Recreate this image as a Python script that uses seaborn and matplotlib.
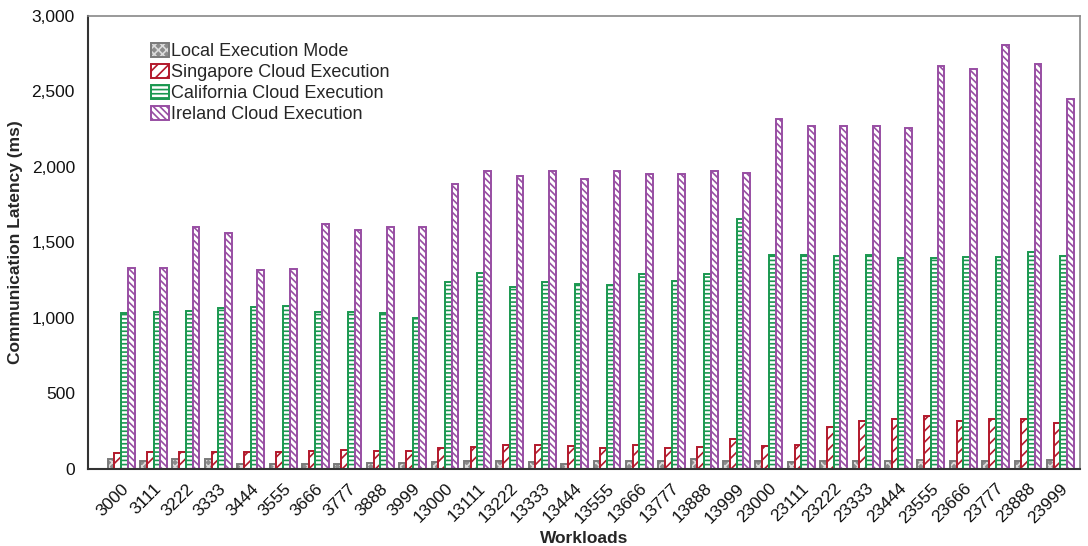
import matplotlib
matplotlib.use("Agg")
import matplotlib.pyplot as plt
from matplotlib.patches import Patch
from matplotlib.colors import to_rgba
from matplotlib.ticker import FuncFormatter
import seaborn as sns
import pandas as pd

workloads = ["3000", "3111", "3222", "3333", "3444", "3555", "3666", "3777", "3888", "3999",
             "13000", "13111", "13222", "13333", "13444", "13555", "13666", "13777", "13888", "13999",
             "23000", "23111", "23222", "23333", "23444", "23555", "23666", "23777", "23888", "23999"]

local_ms = [63, 56, 63, 65, 36, 30, 30, 36, 38, 43,
            48, 56, 56, 45, 30, 51, 54, 56, 63, 54,
            56, 48, 54, 54, 56, 61, 56, 56, 56, 61]
singapore_ms = [104, 111, 111, 112, 110, 112, 120, 127, 116, 120,
                140, 149, 156, 162, 153, 136, 162, 140, 149, 200,
                151, 158, 281, 317, 334, 348, 317, 334, 334, 306]
california_ms = [1035, 1040, 1045, 1065, 1075, 1080, 1040, 1040, 1030, 1000,
                 1235, 1295, 1205, 1240, 1225, 1220, 1290, 1245, 1290, 1655,
                 1420, 1420, 1410, 1420, 1395, 1395, 1405, 1405, 1435, 1410]
ireland_ms = [1330, 1330, 1600, 1565, 1315, 1325, 1620, 1585, 1605, 1600,
              1890, 1970, 1940, 1970, 1920, 1975, 1955, 1955, 1975, 1960,
              2320, 2270, 2270, 2270, 2260, 2670, 2645, 2810, 2680, 2450]

series_names = ["Local Execution Mode", "Singapore Cloud Execution",
                "California Cloud Execution", "Ireland Cloud Execution"]
series_values = [local_ms, singapore_ms, california_ms, ireland_ms]

# per-series drawing style: (face, edge, hatch, hatch colour)
styles = [
    ("#8c8c8c", "#7a7a7a", "xxxx", "#dcdcdc"),
    ("white", "#b2182b", "///", "#b2182b"),
    ("white", "#1a9850", "----", "#1a9850"),
    ("white", "#984ea3", "\\\\\\\\\\", "#984ea3"),
]


def style_patch(p, fc, ec, hatch, hc, lw=1.4):
    p.set_facecolor(fc)
    p.set_edgecolor(ec)
    p.set_hatch(hatch)
    p.set_linewidth(lw)
    p._hatch_color = to_rgba(hc)


rows = []
for name, vals in zip(series_names, series_values):
    for w, v in zip(workloads, vals):
        rows.append({"Workload": w, "Series": name, "Latency": v})
df = pd.DataFrame(rows)

sns.set_style("white")
plt.rcParams["font.family"] = ["Liberation Sans", "DejaVu Sans"]
plt.rcParams["hatch.linewidth"] = 1.2

fig = plt.figure(figsize=(10.88, 5.46), dpi=100)
ax = fig.add_axes([0.081, 0.141, 0.9115, 0.830])

sns.barplot(data=df, x="Workload", y="Latency", hue="Series", order=workloads,
            hue_order=series_names, width=0.83, ax=ax, legend=False,
            errorbar=None)

for container, (fc, ec, hatch, hc) in zip(ax.containers, styles):
    for bar in container:
        style_patch(bar, fc, ec, hatch, hc)

ax.set_ylim(0, 3000)
ax.set_xlim(-1.02, 29.6)
ax.set_yticks([0, 500, 1000, 1500, 2000, 2500, 3000])
ax.yaxis.set_major_formatter(FuncFormatter(lambda v, p: f"{int(v):,}"))

ax.tick_params(axis="y", direction="out", length=6, width=1.2, labelsize=12.5, colors="#222222")
ax.tick_params(axis="x", direction="out", length=5, width=1.2, labelsize=12.5, colors="#222222")
ax.tick_params(axis="both", labelcolor="#111111")
for lbl in ax.get_xticklabels():
    lbl.set_rotation(45)
    lbl.set_ha("right")
    lbl.set_rotation_mode("anchor")

ax.set_xlabel("Workloads", fontsize=12.5, fontweight="bold", labelpad=4)
ax.set_ylabel("Communication Latency (ms)", fontsize=12.5, fontweight="bold", labelpad=6)

for side in ["left", "bottom"]:
    ax.spines[side].set_color("#333333")
    ax.spines[side].set_linewidth(1.5)
for side in ["top", "right"]:
    ax.spines[side].set_color("#888888")
    ax.spines[side].set_linewidth(1.2)

handles = []
for (fc, ec, h, hc), n in zip(styles, series_names):
    patch = Patch(label=n)
    style_patch(patch, fc, ec, h, hc)
    handles.append(patch)
leg = ax.legend(handles=handles, loc="upper left", bbox_to_anchor=(0.063, 0.94),
                frameon=False, fontsize=13, handlelength=1.0, handleheight=0.85,
                handletextpad=0.15, labelspacing=0.19, borderpad=0, borderaxespad=0)
for lp, (fc, ec, h, hc) in zip(leg.get_patches(), styles):
    lp._hatch_color = to_rgba(hc)

fig.savefig("out.png", dpi=100)
